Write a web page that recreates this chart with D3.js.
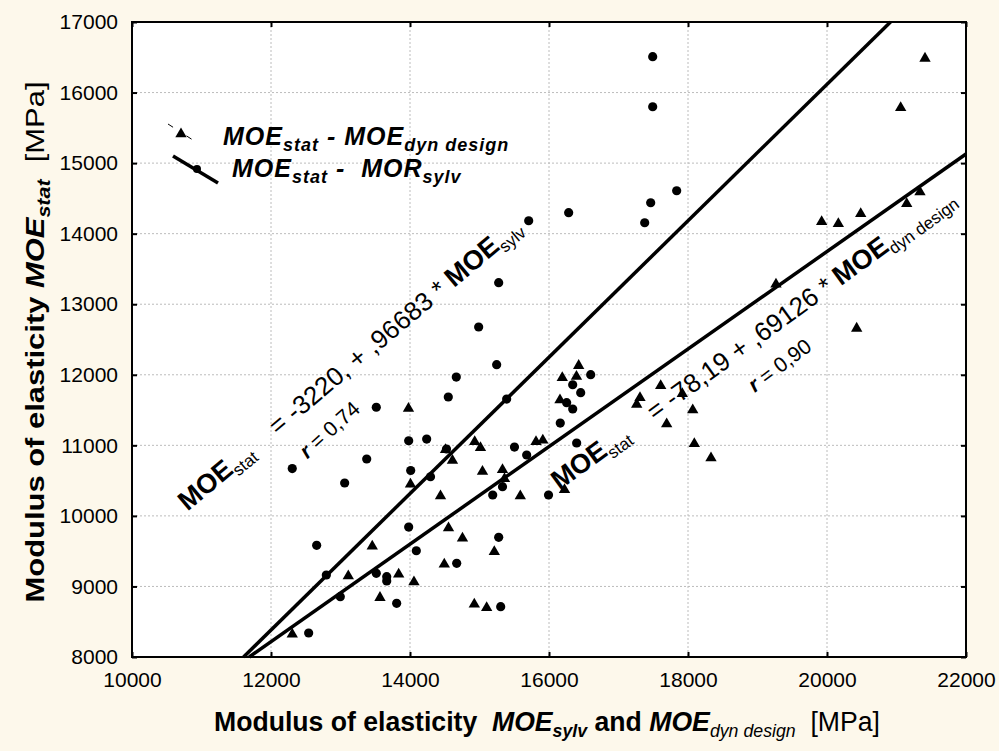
<!DOCTYPE html>
<html>
<head>
<meta charset="utf-8">
<script src="https://cdnjs.cloudflare.com/ajax/libs/d3/7.8.5/d3.min.js"></script>
<style>
  body { margin: 0; background: #fdf8eb; }
  svg { display: block; font-family: Arial, "Liberation Sans", sans-serif; }
  text { white-space: pre; }
</style>
</head>
<body>
<div id="chart"></div>
<script>
// tick values
const xTicks = [10000, 12000, 14000, 16000, 18000, 20000, 22000];
const yTicks = [8000, 9000, 10000, 11000, 12000, 13000, 14000, 15000, 16000, 17000];

// MOE_stat vs MOE_sylv (circles)
const sylvPoints = [
  [13515, 11540], [13981, 11065], [13377, 10806], [12306, 10671], [14010, 10643],
  [13060, 10466], [13981, 9842], [14091, 9506], [12657, 9583], [12796, 9162],
  [13515, 9186], [13665, 9138], [13665, 9077], [13808, 8761], [12997, 8855],
  [12542, 8340], [15247, 12143], [14666, 11968], [14551, 11685], [15391, 11656],
  [16600, 12001], [16341, 11859], [16456, 11746], [16254, 11604], [16341, 11515],
  [16162, 11316], [14240, 11089], [14525, 10948], [15503, 10976], [15679, 10863],
  [16398, 11033], [14295, 10555], [15331, 10414], [15190, 10296], [15993, 10296],
  [15276, 9696], [14672, 9328], [15305, 8713], [15276, 13305], [14988, 12677],
  [17492, 16508], [17492, 15799], [17837, 14608], [17463, 14438], [17377, 14155],
  [16283, 14297], [15708, 14183]
];

// MOE_stat vs MOE_dyn design (triangles)
const dynPoints = [
  [13978, 11536], [14007, 10463], [13457, 9583], [13112, 9162], [13837, 9186],
  [14057, 9077], [13568, 8855], [12306, 8336], [16191, 11972], [16427, 12143],
  [16395, 11989], [16158, 11656], [17309, 11689], [17262, 11595], [14511, 10952],
  [14931, 11064], [15014, 10980], [14611, 10799], [15813, 11065], [15911, 11085],
  [15043, 10643], [15331, 10667], [15360, 10540], [14439, 10296], [15587, 10296],
  [16223, 10384], [14554, 9842], [14755, 9696], [15213, 9506], [14493, 9328],
  [14925, 8761], [15103, 8713], [17607, 11859], [17918, 11746], [18068, 11515],
  [17693, 11316], [18091, 11037], [18331, 10834], [19266, 13296], [20427, 12672],
  [21410, 16499], [21060, 15799], [21338, 14604], [21147, 14438], [20485, 14297],
  [20163, 14155], [19923, 14183]
];

// regression lines: MOE_stat = a + b * x
const fitIntercepts = [-3220, -78.19];
const fitSlopes = [0.96683, 0.69126];

const W = 999, H = 751;
const margin = { top: 22, right: 33, bottom: 94, left: 132 };
const width = W - margin.left - margin.right,
      height = H - margin.top - margin.bottom;

const svg = d3.select('#chart').append('svg')
    .attr('width', W)
    .attr('height', H);

svg.append('rect')
    .attr('width', W).attr('height', H)
    .attr('fill', '#fdf8eb');

const g = svg.append('g')
    .attr('transform', 'translate(' + margin.left + ',' + margin.top + ')');

const x = d3.scaleLinear().domain([10000, 22000]).range([0, width]);
const y = d3.scaleLinear().domain([8000, 17000]).range([height, 0]);

g.append('rect')
    .attr('width', width).attr('height', height)
    .attr('fill', '#fff');

// dotted grid
g.append('g').selectAll('line')
  .data(xTicks.slice(1, -1))
  .join('line')
    .attr('x1', d => x(d)).attr('x2', d => x(d))
    .attr('y1', 0).attr('y2', height)
    .attr('stroke', '#bcbcbc').attr('stroke-width', 1)
    .attr('stroke-dasharray', '2,2');

g.append('g').selectAll('line')
  .data(yTicks.slice(1, -1))
  .join('line')
    .attr('y1', d => y(d)).attr('y2', d => y(d))
    .attr('x1', 0).attr('x2', width)
    .attr('stroke', '#bcbcbc').attr('stroke-width', 1)
    .attr('stroke-dasharray', '2,2');

// axes with inward ticks
const tickFont = '21px';
const xAxis = g.append('g')
    .attr('transform', 'translate(0,' + height + ')')
    .call(d3.axisBottom(x).tickValues(xTicks).tickSize(-5).tickPadding(15).tickFormat(d3.format('d')));
const yAxis = g.append('g')
    .call(d3.axisLeft(y).tickValues(yTicks).tickSize(-5).tickPadding(14).tickFormat(d3.format('d')));
g.append('g')
    .call(d3.axisTop(x).tickValues(xTicks).tickSize(-5).tickFormat(''));
g.append('g')
    .attr('transform', 'translate(' + width + ',0)')
    .call(d3.axisRight(y).tickValues(yTicks).tickSize(-5).tickFormat(''));

g.selectAll('.domain').remove();
g.selectAll('.tick line').attr('stroke', '#000').attr('stroke-width', 2);
[xAxis, yAxis].forEach(a => a.selectAll('text')
    .attr('font-size', tickFont)
    .attr('font-family', 'Arial, "Liberation Sans", sans-serif')
    .attr('fill', '#000'));

// frame
g.append('rect')
    .attr('width', width).attr('height', height)
    .attr('fill', 'none').attr('stroke', '#000').attr('stroke-width', 2);

// regression lines
const plot = g.append('g');
const fitLines = fitIntercepts.map((a, i) => {
  const b = fitSlopes[i];
  const x0 = (8000 - a) / b;
  const x1 = Math.min(22000, (17000 - a) / b);
  return [[x0, a + b * x0], [x1, a + b * x1]];
});
plot.selectAll('path.fit')
  .data(fitLines)
  .join('path')
    .attr('class', 'fit')
    .attr('d', d3.line().x(d => x(d[0])).y(d => y(d[1])))
    .attr('fill', 'none')
    .attr('stroke', '#000')
    .attr('stroke-width', 3.5);

// points
plot.selectAll('circle.sylv')
  .data(sylvPoints)
  .join('circle')
    .attr('class', 'sylv')
    .attr('cx', d => x(d[0]))
    .attr('cy', d => y(d[1]))
    .attr('r', 4.6)
    .attr('fill', '#000');

const tri = d3.symbol().type(d3.symbolTriangle).size(56);
plot.selectAll('path.dyn')
  .data(dynPoints)
  .join('path')
    .attr('class', 'dyn')
    .attr('d', tri)
    .attr('transform', d => 'translate(' + x(d[0]) + ',' + (y(d[1]) + 1) + ')')
    .attr('fill', '#000');

// rich text helper: parts = [text, size, bold, italic, dy]
function rich(sel, parts) {
  parts.forEach(p => {
    const t = sel.append('tspan')
        .text(p[0])
        .attr('font-size', p[1])
        .attr('font-weight', p[2] ? 'bold' : 'normal')
        .attr('font-style', p[3] ? 'italic' : 'normal');
    if (p[4]) t.attr('dy', p[4]);
  });
  return sel;
}

// equation labels along the lines
function label(px, py, angle, parts) {
  const t = g.append('text')
      .attr('transform', 'translate(' + x(px) + ',' + y(py) + ') rotate(' + angle + ')')
      .attr('fill', '#000');
  rich(t, parts);
}

label(10800, 10060, -40, [
  ['MOE', 27, true, false], ['stat', 17, false, false, 6],
  ['    = -3220, + ,96683 * ', 26, false, false, -6],
  ['MOE', 27, true, false], ['sylv', 17, false, false, 6]
]);
label(12520, 10800, -42, [
  ['r', 21, true, true], [' = 0,74', 21, false, false]
]);
label(16150, 10360, -36, [
  ['MOE', 27, true, false], ['stat', 17, false, false, 6],
  ['    = -78,19 + ,69126 * ', 26, false, false, -6],
  ['MOE', 27, true, false], ['dyn design', 17, false, false, 6]
]);
label(18960, 11740, -37, [
  ['r', 21, true, true], [' = 0,90', 21, false, false]
]);

// legend
const leg = svg.append('g');
leg.append('line')
    .attr('x1', 168).attr('y1', 124).attr('x2', 196).attr('y2', 142)
    .attr('stroke', '#000').attr('stroke-width', 1)
    .attr('stroke-dasharray', '6,16');
leg.append('path')
    .attr('d', tri)
    .attr('transform', 'translate(181,134)')
    .attr('fill', '#000');
leg.append('line')
    .attr('x1', 173).attr('y1', 156).attr('x2', 218).attr('y2', 183)
    .attr('stroke', '#000').attr('stroke-width', 3.5);
leg.append('circle')
    .attr('cx', 197).attr('cy', 169).attr('r', 4)
    .attr('fill', '#000');

rich(leg.append('text').attr('x', 223).attr('y', 145).attr('letter-spacing', 1), [
  ['MOE', 25, true, true], ['stat', 18, true, true, 6],
  [' - MOE', 25, true, true, -6], ['dyn design', 18, true, true, 6]
]);
rich(leg.append('text').attr('x', 232).attr('y', 177).attr('letter-spacing', 1), [
  ['MOE', 25, true, true], ['stat', 18, true, true, 6],
  [' -  MOR', 25, true, true, -6], ['sylv', 18, true, true, 6]
]);

// axis titles
const yTitle = svg.append('text')
    .attr('transform', 'translate(44,342) rotate(-90)')
    .attr('text-anchor', 'middle')
    .attr('textLength', 521)
    .attr('lengthAdjust', 'spacingAndGlyphs');
rich(yTitle, [
  ['Modulus of elasticity ', 26, true, false], ['MOE', 26, true, true],
  ['stat', 18, true, true, 6], ['  [MPa]', 26, false, false, -6]
]);

const xTitle = svg.append('text')
    .attr('x', 547).attr('y', 731)
    .attr('text-anchor', 'middle')
    .attr('textLength', 666)
    .attr('lengthAdjust', 'spacingAndGlyphs');
rich(xTitle, [
  ['Modulus of elasticity  ', 27, true, false], ['MOE', 27, true, true],
  ['sylv', 18, true, true, 6], [' and ', 27, true, false, -6],
  ['MOE', 27, true, true], ['dyn design', 18, false, true, 6],
  ['  [MPa]', 27, false, false, -6]
]);
</script>
</body>
</html>
